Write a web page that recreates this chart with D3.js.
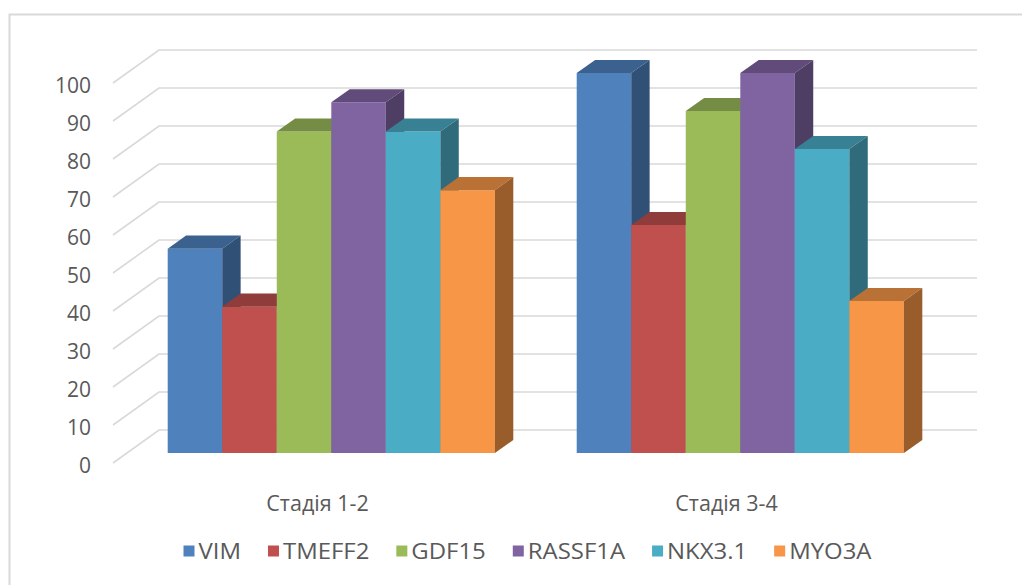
<!DOCTYPE html>
<html>
<head>
<meta charset="utf-8">
<script src="https://cdn.jsdelivr.net/npm/d3@7"></script>
<style>
  html, body { margin: 0; padding: 0; background: #ffffff; }
  svg { display: block; }
  text { font-family: "Open Sans", "Noto Sans", sans-serif; fill: #595959; }
</style>
</head>
<body>
<svg id="chart" width="1022" height="585"></svg>
<script>
// Share of samples with gene methylation (%) by disease stage
const categories = ["Стадія 1-2", "Стадія 3-4"];
const seriesNames = ["VIM", "TMEFF2", "GDF15", "RASSF1A", "NKX3.1", "MYO3A"];
const seriesColors = ["#4F81BD", "#C0504D", "#9BBB59", "#8064A2", "#4BACC6", "#F79646"];
const stage12 = [53.8, 38.5, 84.6, 92.3, 84.6, 69.2];
const stage34 = [100, 60, 90, 100, 80, 40];
const tickValues = [0, 10, 20, 30, 40, 50, 60, 70, 80, 90, 100];

const values = [stage12, stage34];

const svg = d3.select("#chart");

// Outer chart frame
svg.append("rect")
  .attr("x", 9.5).attr("y", 14.5)
  .attr("width", 1030).attr("height", 600)
  .attr("fill", "none")
  .attr("stroke", "#d9d9d9")
  .attr("stroke-width", 2);

// Oblique 3D projection: depth z in [0,1] shifts a point up and right
const DX = 46, DY = -33;
const y = d3.scaleLinear().domain([0, 100]).range([463, 83]);
const x0 = d3.scaleBand().domain(categories).range([113, 931])
  .paddingInner(0.2).paddingOuter(0.1);
const x1 = d3.scaleBand().domain(seriesNames).range([0, x0.bandwidth()]);
const proj = (px, v, z) => [px + z * DX, y(v) + z * DY];

// Walls: back-wall gridlines and the floor-side diagonals
const grid = svg.append("g").attr("stroke", "#d9d9d9").attr("stroke-width", 1.6).attr("fill", "none");
const [xl, xr] = x0.range();
tickValues.forEach(t => {
  const a = proj(xl, t, 0), b = proj(xl, t, 1), c = proj(xr, t, 1);
  grid.append("path").attr("d", `M${a[0]},${a[1]}L${b[0]},${b[1]}L${c[0]},${c[1]}`);
});

// Value axis labels
svg.append("g").selectAll("text").data(tickValues).join("text")
  .attr("x", 91).attr("y", d => y(d) + 10)
  .attr("text-anchor", "end")
  .attr("font-size", 21)
  .text(d => d);

// Bars: front, top and right side faces, drawn left to right
const Z0 = 0.3, Z1 = 0.7;
const shade = (c, k) => { const r = d3.rgb(c); return d3.rgb(r.r * k, r.g * k, r.b * k).formatHex(); };
const poly = pts => "M" + pts.map(p => p.join(",")).join("L") + "Z";
const bars = svg.append("g");
categories.forEach((cat, ci) => {
  seriesNames.forEach((s, si) => {
    const v = values[ci][si];
    const xa = x0(cat) + x1(s), xb = xa + x1.bandwidth();
    const col = seriesColors[si];
    bars.append("path")
      .attr("d", poly([proj(xa, 0, Z0), proj(xb, 0, Z0), proj(xb, v, Z0), proj(xa, v, Z0)]))
      .attr("fill", col);
    bars.append("path")
      .attr("d", poly([proj(xa, v, Z0), proj(xb, v, Z0), proj(xb, v, Z1), proj(xa, v, Z1)]))
      .attr("fill", shade(col, 0.75));
    bars.append("path")
      .attr("d", poly([proj(xb, 0, Z0), proj(xb, 0, Z1), proj(xb, v, Z1), proj(xb, v, Z0)]))
      .attr("fill", shade(col, 0.62));
  });
});

// Category labels
svg.append("g").selectAll("text").data(categories).join("text")
  .attr("x", d => x0(d) + x0.bandwidth() / 2)
  .attr("y", 511)
  .attr("text-anchor", "middle")
  .attr("font-size", 21.5)
  .text(d => d);

// Legend, centred under the plot; labels slightly widened
const LEGEND_SX = 1.14;
const legend = svg.append("g");
const items = legend.selectAll("g").data(seriesNames).join("g");
items.append("rect").attr("width", 11).attr("height", 11).attr("y", 545.5)
  .attr("fill", (d, i) => seriesColors[i]);
items.append("g").attr("transform", `translate(15,559) scale(${LEGEND_SX},1)`)
  .append("text").attr("font-size", 21).text(d => d);
let cursor = 0;
items.each(function () {
  const g = d3.select(this);
  g.attr("transform", `translate(${cursor},0)`);
  cursor += 15 + g.select("text").node().getComputedTextLength() * LEGEND_SX + 27;
});
const legendWidth = cursor - 27;
legend.attr("transform", `translate(${527.5 - legendWidth / 2},0)`);
</script>
</body>
</html>
